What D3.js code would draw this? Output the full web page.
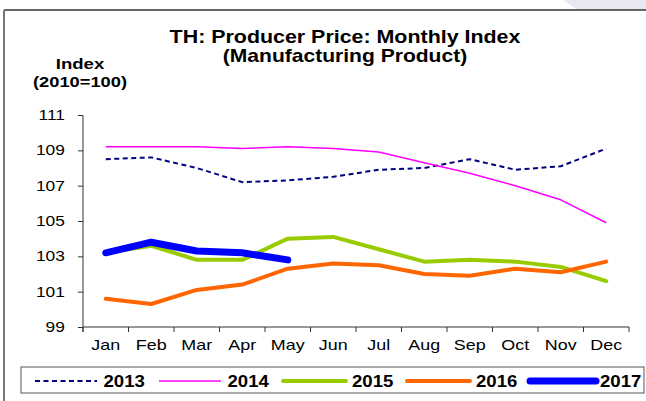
<!DOCTYPE html>
<html><head><meta charset="utf-8">
<script src="https://cdn.jsdelivr.net/npm/d3@7/dist/d3.min.js"></script>
<style>
html,body{margin:0;padding:0;background:#fff;}
svg{display:block;font-family:"Liberation Sans",Arial,sans-serif;}
</style></head>
<body>
<script>
const months = ["Jan","Feb","Mar","Apr","May","Jun","Jul","Aug","Sep","Oct","Nov","Dec"];
const yTicks = [99,101,103,105,107,109,111];
const s2013 = [108.5,108.6,108.0,107.2,107.3,107.5,107.9,108.0,108.5,107.9,108.1,109.1];
const s2014 = [109.2,109.2,109.2,109.1,109.2,109.1,108.9,108.3,107.7,107.0,106.2,104.9];
const s2015 = [103.2,103.6,102.8,102.8,104.0,104.1,103.4,102.7,102.8,102.7,102.4,101.6];
const s2016 = [100.6,100.3,101.1,101.4,102.3,102.6,102.5,102.0,101.9,102.3,102.1,102.7];
const s2017 = [103.2,103.8,103.3,103.2,102.8];
const seriesNames = ["2013","2014","2015","2016","2017"];
const seriesData = [s2013,s2014,s2015,s2016,s2017];
const colors = ["#000080","#FF00FF","#99CC00","#FF6600","#0000FF"];
const widths = [2,1.5,4,4,7];
const dashes = ["5,3.5",null,null,null,null];

const W=646,H=401;
const svg=d3.select("body").append("svg").attr("width",W).attr("height",H);

// decoration top-right
svg.append("path").attr("d","M563,0 C570,5 575,9 580,9.5 L646,9.5 L646,0 Z").attr("fill","#e8e8f3");
// outer frame
svg.append("line").attr("x1",4).attr("x2",W).attr("y1",10).attr("y2",10).attr("stroke","#333").attr("stroke-width",1.5);
svg.append("line").attr("x1",4).attr("x2",4).attr("y1",10).attr("y2",H).attr("stroke","#777").attr("stroke-width",2);

const SX=1.2;
function txt(x,y,str,size,weight,anchor,sx){
  return svg.append("text").attr("transform",`translate(${x},${y}) scale(${sx||SX},1)`)
    .attr("font-size",size).attr("font-weight",weight||"normal").attr("text-anchor",anchor||"middle")
    .attr("fill","#000").text(str);
}
txt(345,43,"TH: Producer Price: Monthly Index",18,"bold","middle",1.19);
txt(345,62,"(Manufacturing Product)",18,"bold","middle",1.17);
txt(80,69,"Index",15,"bold","middle",1.24);
txt(80,87,"(2010=100)",15,"bold","middle",1.22);

const x=d3.scaleBand().domain(months).range([83,629]).padding(0);
const y=d3.scaleLinear().domain([99,111]).range([327,115]);

// y axis
const ya=svg.append("g").attr("transform","translate(83,0)")
  .call(d3.axisLeft(y).tickValues(yTicks).tickSize(5).tickPadding(3).tickFormat(d3.format("d")));
ya.select(".domain").attr("stroke","#333").attr("d","M-5,115.5H0V332");
ya.selectAll(".tick line").attr("stroke","#333");
ya.selectAll(".tick text").attr("font-size",14).attr("font-family","Liberation Sans, Arial, sans-serif")
  .attr("x",-14.6).attr("dy","0.33em").attr("transform","scale(1.24,1)").attr("fill","#000");

// x axis
const xa=svg.append("g").attr("transform","translate(0,327)")
  .call(d3.axisBottom(x).tickSize(0).tickPadding(14));
xa.select(".domain").attr("stroke","#333").attr("d","M83,0H629");
xa.selectAll(".tick text").attr("font-size",14).attr("font-family","Liberation Sans, Arial, sans-serif")
  .attr("fill","#000").attr("y",0).attr("dy",23.5).attr("transform","scale(1.28,1)");
const bounds=d3.range(months.length+1).map(i=>x.range()[0]+i*x.step());
xa.selectAll(".bt").data(bounds).enter().append("line").attr("class","bt")
  .attr("x1",d=>d).attr("x2",d=>d).attr("y1",0).attr("y2",5).attr("stroke","#333");

// lines
const line=d3.line().x((d,i)=>x(months[i])+x.bandwidth()/2).y(d=>y(d));
seriesData.forEach((s,k)=>{
  svg.append("path").datum(s).attr("d",line).attr("fill","none")
    .attr("stroke",colors[k]).attr("stroke-width",widths[k])
    .attr("stroke-dasharray",dashes[k]).attr("stroke-linejoin","round")
    .attr("stroke-linecap",k>=2?"round":"butt");
});

// legend
svg.append("rect").attr("x",21).attr("y",367).attr("width",623).attr("height",26)
  .attr("fill","#fff").attr("stroke","#555").attr("stroke-width",1);
const legX=[35,159,283,407,530];
const legW=[62,62,63,63,66];
const legT=[103.5,227.5,352,476,600];
seriesNames.forEach((n,k)=>{
  svg.append("line").attr("x1",legX[k]).attr("x2",legX[k]+legW[k]).attr("y1",381).attr("y2",381)
    .attr("stroke",colors[k]).attr("stroke-width",widths[k])
    .attr("stroke-dasharray",dashes[k]).attr("stroke-linecap",k>=2?"round":"butt");
  txt(legT[k],387,n,16,"bold","start",1.16);
});
</script>
</body></html>
